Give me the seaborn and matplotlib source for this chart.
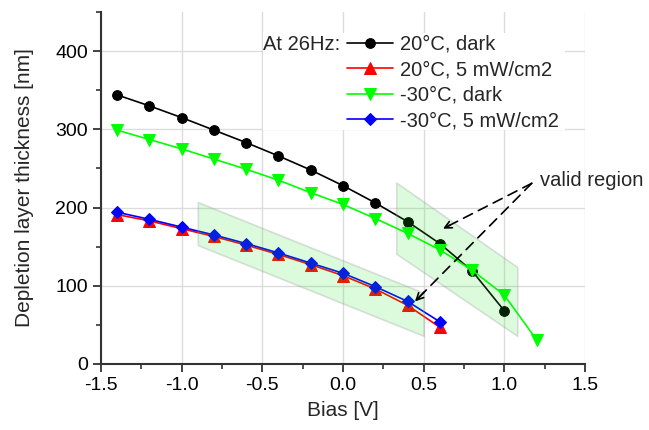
import numpy as np
import pandas as pd
import matplotlib
matplotlib.use("Agg")
import matplotlib.pyplot as plt
from matplotlib.ticker import MultipleLocator, FormatStrFormatter
from matplotlib.patches import Rectangle
import seaborn as sns

# ---------------- data ----------------
bias_black = [-1.4, -1.2, -1.0, -0.8, -0.6, -0.4, -0.2, 0.0, 0.2, 0.4, 0.6, 0.8, 1.0]
dark_20 = [344, 330, 315, 299, 283, 266, 248, 228, 206, 182, 154, 119, 68]

bias_light = [-1.4, -1.2, -1.0, -0.8, -0.6, -0.4, -0.2, 0.0, 0.2, 0.4, 0.6]
light_20 = [191, 183, 173, 163, 152, 140, 127, 113, 96, 75, 47]
light_m30 = [194, 185, 175, 165, 154, 142, 129, 116, 99, 80, 54]

bias_green = [-1.4, -1.2, -1.0, -0.8, -0.6, -0.4, -0.2, 0.0, 0.2, 0.4, 0.6, 0.8, 1.0, 1.2]
dark_m30 = [299, 287, 275, 262, 249, 235, 219, 204, 186, 167, 146, 120, 88, 31]

labels = ["20°C, dark", "20°C, 5 mW/cm2", "-30°C, dark", "-30°C, 5 mW/cm2"]

# valid-region parallelograms (bias edges, top edge, bottom edge)
region1_x = [-0.9, 0.5]
region1_top = [207, 91]
region1_bot = [152, 36]
region2_x = [0.33, 1.08]
region2_top = [232, 124]
region2_bot = [141, 36]

arrow_start = (1.17, 231)
arrow_ends = [(0.62, 173), (0.446, 80)]
text_pos = (1.22, 235)

# ---------------- style ----------------
sns.set_style("ticks")
plt.rcParams["font.family"] = ["Liberation Sans", "DejaVu Sans"]
plt.rcParams["axes.unicode_minus"] = False

fig = plt.figure(figsize=(6.49, 4.3), dpi=100)
ax = fig.add_axes([101 / 649, 1 - 364 / 430, 484 / 649, 352 / 430])

lw = 1.2
sns.lineplot(x=bias_black, y=dark_20, ax=ax, color="black", marker="o", markersize=7,
             markeredgecolor="black", linewidth=lw, label=labels[0])
sns.lineplot(x=bias_light, y=light_20, ax=ax, color="#ff0000", marker="^", markersize=8,
             markeredgecolor="#ff0000", linewidth=lw, label=labels[1])
sns.lineplot(x=bias_green, y=dark_m30, ax=ax, color="#00ff00", marker="v", markersize=8,
             markeredgecolor="#00ff00", linewidth=lw, label=labels[2])
sns.lineplot(x=bias_light, y=light_m30, ax=ax, color="#0000ff", marker="D", markersize=6.5,
             markeredgecolor="#0000ff", linewidth=lw, label=labels[3])

# shaded valid regions (on top, translucent)
for rx, rt, rb in [(region1_x, region1_top, region1_bot), (region2_x, region2_top, region2_bot)]:
    ax.fill_between(rx, rt, rb, facecolor=(0.1, 0.9, 0.1, 0.15),
                    edgecolor=(0.6, 0.6, 0.6, 0.3), linewidth=1.2, zorder=5)

# arrows
for end in arrow_ends:
    ax.annotate("", xy=end, xytext=arrow_start,
                arrowprops=dict(arrowstyle="-", color="black", lw=1.2,
                                linestyle=(0, (6, 4)), shrinkA=0, shrinkB=0), zorder=6)
    dx = arrow_start[0] - end[0]
    dy = arrow_start[1] - end[1]
    ax.annotate("", xy=end, xytext=(end[0] + dx * 0.08, end[1] + dy * 0.08),
                arrowprops=dict(arrowstyle="->,head_length=0.5,head_width=0.25",
                                color="black", lw=1.2, shrinkA=0, shrinkB=0), zorder=6)
ax.text(text_pos[0], text_pos[1], "valid region", fontsize=14.5, ha="left", va="center")

# axes
ax.set_xlim(-1.5, 1.5)
ax.set_ylim(0, 450)
ax.set_xticks(np.arange(-1.5, 1.51, 0.5))
ax.set_yticks([0, 100, 200, 300, 400])
ax.xaxis.set_major_formatter(FormatStrFormatter("%.1f"))
ax.xaxis.set_minor_locator(MultipleLocator(0.25))
ax.yaxis.set_minor_locator(MultipleLocator(50))
ax.grid(True, which="major", color="#dcdcdc", linewidth=1)
ax.set_axisbelow(True)
sns.despine(ax=ax)
for s in ["left", "bottom"]:
    ax.spines[s].set_linewidth(1.5)
    ax.spines[s].set_color("#333333")
ax.tick_params(which="major", direction="out", length=6, width=1.3, labelsize=14,
               colors="#333333", labelcolor="black")
ax.tick_params(which="minor", direction="out", length=3.5, width=1.2, colors="#333333")
ax.set_xlabel("Bias [V]", fontsize=15, labelpad=5)
ax.set_ylabel("Depletion layer thickness [nm]", fontsize=15, labelpad=15)

# legend with white backing box
ax.add_patch(Rectangle((0.335, 0.665), 0.624, 0.275, transform=ax.transAxes,
                       facecolor="white", edgecolor="none", zorder=1))
handles, labs = ax.get_legend_handles_labels()
leg = ax.legend(handles, labs, loc="upper left", bbox_to_anchor=(347 / 649, 1 - 35 / 430),
                bbox_transform=fig.transFigure, frameon=False, fontsize=14.5,
                handlelength=2.3, handletextpad=0.35, labelspacing=0.32,
                borderpad=0, borderaxespad=0)
fig.text(263 / 649, 1 - 45 / 430, "At 26Hz:", fontsize=14.5, ha="left", va="center")

fig.savefig("out.png", dpi=100)
